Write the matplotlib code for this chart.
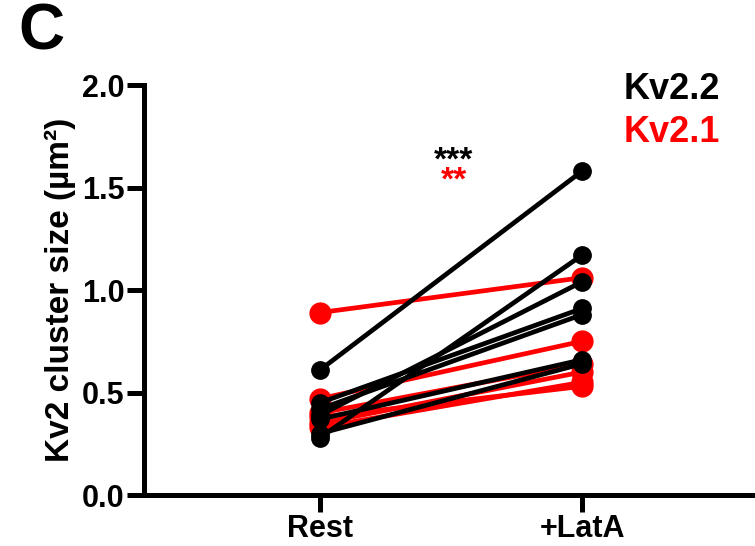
import matplotlib
matplotlib.use("Agg")
import matplotlib.pyplot as plt

# Condições e valores
condicoes = ["Rest", "+LatA"]
kv22_rest = [0.61, 0.28, 0.39, 0.45, 0.42, 0.37, 0.30]
kv22_lata = [1.58, 1.17, 1.04, 0.91, 0.88, 0.66, 0.64]
kv21_rest = [0.89, 0.47, 0.40, 0.35, 0.33, 0.38]
kv21_lata = [1.06, 0.75, 0.64, 0.60, 0.55, 0.53]
y_ticks = [0.0, 0.5, 1.0, 1.5, 2.0]

plt.rcParams["font.family"] = ["Liberation Sans", "DejaVu Sans"]
plt.rcParams["font.weight"] = "bold"

fig = plt.figure(figsize=(7.55, 5.46), dpi=100)
ax = fig.add_axes([0.1907, 0.0934, 0.8093, 0.7509])

x = [0, 1]
# Kv2.1 em vermelho
for r, l in zip(kv21_rest, kv21_lata):
    ax.plot(x, [r, l], color="red", lw=3.4, marker="o", ms=15,
            solid_capstyle="round", zorder=2, clip_on=False)
# Kv2.2 em preto
for r, l in zip(kv22_rest, kv22_lata):
    ax.plot(x, [r, l], color="black", lw=3.4, marker="o", ms=12.5,
            solid_capstyle="round", zorder=3, clip_on=False)

ax.set_xlim(-0.672, 1.66)
ax.set_ylim(0, 2.0)
ax.set_xticks(x)
ax.set_xticklabels(condicoes, fontsize=22, fontweight="bold")
ax.set_yticks(y_ticks)
ax.set_yticklabels([f"{v:.1f}" for v in y_ticks], fontsize=22, fontweight="bold")
ax.set_ylabel("Kv2 cluster size (µm²)", fontsize=24, fontweight="bold", labelpad=4)

for lado in ["top", "right"]:
    ax.spines[lado].set_visible(False)
for lado in ["left", "bottom"]:
    ax.spines[lado].set_linewidth(3.6)
ax.tick_params(axis="both", width=3.6, length=12, pad=2)

# Legenda em texto colorido
ax.text(1.16, 1.98, "Kv2.2", color="black", fontsize=26, fontweight="bold",
        ha="left", va="center")
ax.text(1.16, 1.77, "Kv2.1", color="red", fontsize=26, fontweight="bold",
        ha="left", va="center")

# Significância
ax.text(0.51, 1.63, "***", color="black", fontsize=24, fontweight="bold",
        ha="center", va="center")
ax.text(0.51, 1.53, "**", color="red", fontsize=24, fontweight="bold",
        ha="center", va="center")

fig.text(0.024, 0.94, "C", fontsize=46, fontweight="bold", ha="left", va="center")

plt.savefig("out.png", dpi=100)
plt.close()
